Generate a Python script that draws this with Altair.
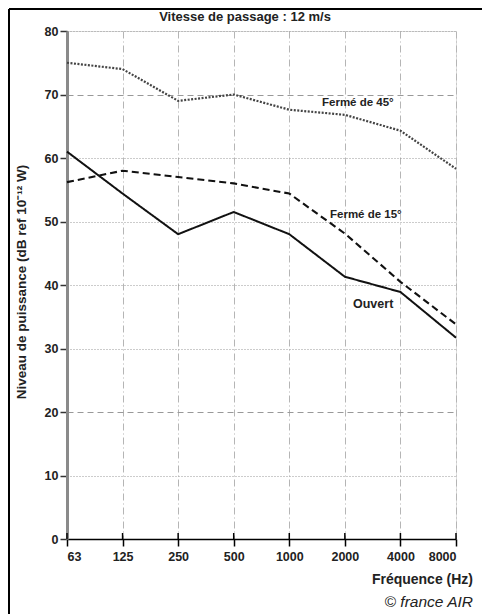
import altair as alt
import pandas as pd

freqs = ["63", "125", "250", "500", "1000", "2000", "4000", "8000"]
ferme45 = [75, 74, 69, 70, 67.6, 66.8, 64.3, 58.3]
ferme15 = [56.2, 58, 57, 56, 54.4, 48.1, 40.5, 33.8]
ouvert = [61, 54.4, 48, 51.5, 48, 41.3, 38.9, 31.7]
series_names = ["Fermé de 45°", "Fermé de 15°", "Ouvert"]
y_ticks = [0, 10, 20, 30, 40, 50, 60, 70, 80]

rows = []
for name, vals in zip(series_names, [ferme45, ferme15, ouvert]):
    for i, (f, v) in enumerate(zip(freqs, vals)):
        rows.append({"idx": i, "freq": f, "level": v, "serie": name})
df = pd.DataFrame(rows)

W, H = 389, 508
FONT = "Liberation Sans"

label_expr = "[" + ",".join(f"'{f}'" for f in freqs) + "][datum.value]"

x_enc = alt.X("idx:Q", scale=alt.Scale(domain=[0, 7], nice=False, zero=False),
              axis=alt.Axis(values=list(range(8)), labelExpr=label_expr, title=None,
                            grid=True, gridDash=[7, 3, 1, 3], gridColor="#b5b5b5",
                            gridWidth=1, domainColor="#000000", domainWidth=1.5,
                            tickColor="#000000", tickSize=7, tickWidth=1.5,
                            labelFont=FONT, labelFontSize=12.5, labelFontWeight="bold",
                            labelColor="#222222", labelPadding=4))
y_enc = alt.Y("level:Q", scale=alt.Scale(domain=[0, 80], nice=False),
              axis=alt.Axis(values=y_ticks, title=None, grid=True,
                            gridDash=alt.condition("datum.value == 20 || datum.value == 70",
                                                   alt.value([6, 4]), alt.value([1, 2])),
                            gridColor="#999999", gridWidth=1,
                            domainColor="#8a8a8a", domainWidth=3,
                            tickColor="#333333", tickSize=7, tickWidth=1.5,
                            labelFont=FONT, labelFontSize=12.5, labelFontWeight="bold",
                            labelColor="#222222", labelPadding=2))

lines = alt.Chart(df).mark_line(clip=False).encode(
    x=x_enc,
    y=y_enc,
    detail="serie:N",
    strokeDash=alt.StrokeDash("serie:N", scale=alt.Scale(domain=series_names,
                              range=[[2, 1.5], [7, 4], [1, 0]]), legend=None),
    color=alt.Color("serie:N", scale=alt.Scale(domain=series_names,
                    range=["#444444", "#111111", "#111111"]), legend=None),
    strokeWidth=alt.StrokeWidth("serie:N", scale=alt.Scale(domain=series_names,
                                range=[2.2, 2, 2.2]), legend=None),
)

tick_df = pd.DataFrame({"idx": list(range(8))})
up_ticks = alt.Chart(tick_df).mark_rule(color="#000000", strokeWidth=1.5).encode(
    x="idx:Q", y=alt.value(H - 6), y2=alt.value(H))

ann_df = pd.DataFrame({
    "t": ["Fermé de 45°", "Fermé de 15°", "Ouvert"],
    "px": [255, 263, 286],
    "py": [72, 184, 273],
    "fs": [11.5, 11.5, 12.5],
})
ann = alt.Chart(ann_df).mark_text(align="left", baseline="middle", font=FONT,
                                  fontWeight="bold", color="#222222").encode(
    x=alt.X("px:Q", scale=None), y=alt.Y("py:Q", scale=None), text="t:N",
    size=alt.Size("fs:Q", scale=None, legend=None))

title_txt = alt.Chart(pd.DataFrame({"t": ["Vitesse de passage : 12 m/s"]})).mark_text(
    align="center", baseline="middle", font=FONT, fontSize=13, fontWeight="bold",
    color="#222222").encode(x=alt.value(178), y=alt.value(-14), text="t:N")

ytitle = alt.Chart(pd.DataFrame({"t": ["Niveau de puissance (dB ref 10⁻¹² W)"]})).mark_text(
    align="center", baseline="middle", angle=270, font=FONT, fontSize=13.5,
    fontWeight="bold", color="#222222").encode(x=alt.value(-45), y=alt.value(251), text="t:N")

xtitle = alt.Chart(pd.DataFrame({"t": ["Fréquence (Hz)"]})).mark_text(
    align="right", baseline="middle", font=FONT, fontSize=14, fontWeight="bold",
    color="#222222").encode(x=alt.value(406), y=alt.value(549), text="t:N")

credit = alt.Chart(pd.DataFrame({"t": ["© france AIR"]})).mark_text(
    align="right", baseline="middle", font=FONT, fontSize=15.5, fontStyle="italic",
    color="#222222").encode(x=alt.value(406), y=alt.value(571), text="t:N")

frame = alt.Chart(pd.DataFrame({"a": [0]})).mark_rule(color="#000000", strokeWidth=2).encode(
    x=alt.value(-58), x2=alt.value(-58), y=alt.value(-22), y2=alt.value(H + 76))
frame_top = alt.Chart(pd.DataFrame({"a": [0]})).mark_rule(color="#000000", strokeWidth=2).encode(
    x=alt.value(-58), x2=alt.value(W + 30), y=alt.value(-22))

chart = alt.layer(lines, up_ticks, ann, title_txt, ytitle, xtitle, credit, frame, frame_top).properties(
    width=W, height=H,
    autosize=alt.AutoSizeParams(type="none"),
    padding={"left": 59, "top": 23, "right": 26, "bottom": 75},
).configure_view(stroke=None).configure(background="white")

chart.save("out.html", embed_options={"renderer": "svg", "actions": False})
